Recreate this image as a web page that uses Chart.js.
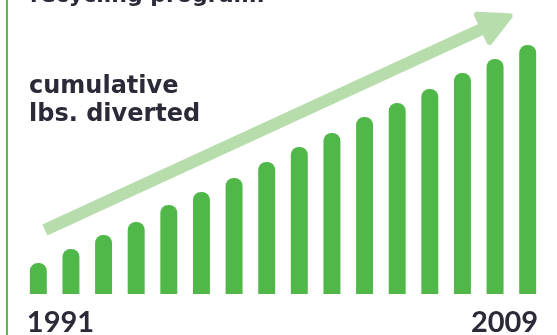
<!DOCTYPE html>
<html>
<head>
<meta charset="utf-8">
<script src="https://cdn.jsdelivr.net/npm/chart.js@4"></script>
<style>
  html, body { margin: 0; padding: 0; background: #ffffff; }
  #wrap { position: relative; width: 557px; height: 335px; overflow: hidden; }
  #rule { position: absolute; left: 6px; top: 0; width: 2px; height: 335px; background: #5cb951; }
  canvas { position: absolute; left: 0; top: 0; }
</style>
</head>
<body>
<div id="wrap">
  <div id="rule"></div>
  <canvas id="chart" width="557" height="335"></canvas>
</div>
<script>
// Cumulative pounds diverted by the recycling program, one bar per period
const categories = ['1991', '', '', '', '', '', '', '', '', '', '', '', '', '', '', '2009'];
const cumulativeDiverted = [31, 45, 59, 72, 89, 102, 116, 132, 147, 161, 177, 191, 205, 221, 235, 249];
// Trend arrow: category positions and values of its tail and tip
const trendPositions = [0.2, 14.53];
const trendValues = [64, 279];
const captionLines = ['cumulative', 'lbs. diverted'];
const headerText = 'recycling program.';

const BAR_GREEN = '#50b848';
const ARROW_GREEN = '#b7ddad';
const INK = '#2b2a38';
const TEXT_FONT = '"DejaVu Sans", sans-serif';
const YEAR_FONT = 'Lato, "Open Sans", sans-serif';

const decorations = {
  id: 'decorations',
  beforeDatasetsDraw(chart) {
    const { ctx, scales: { x, y } } = chart;
    const x0 = x.getPixelForValue(trendPositions[0]);
    const y0 = y.getPixelForValue(trendValues[0]);
    const x1 = x.getPixelForValue(trendPositions[1]);
    const y1 = y.getPixelForValue(trendValues[1]);
    const len = Math.hypot(x1 - x0, y1 - y0);
    const ux = (x1 - x0) / len, uy = (y1 - y0) / len;
    const px = -uy, py = ux;
    const headLen = 32, headHalf = 18;
    const bx = x1 - ux * headLen, by = y1 - uy * headLen;
    ctx.save();
    ctx.strokeStyle = ARROW_GREEN;
    ctx.fillStyle = ARROW_GREEN;
    ctx.lineWidth = 12;
    ctx.lineCap = 'butt';
    ctx.beginPath();
    ctx.moveTo(x0, y0);
    ctx.lineTo(bx + ux * 2, by + uy * 2);
    ctx.stroke();
    ctx.lineJoin = 'round';
    ctx.lineWidth = 6;
    ctx.beginPath();
    ctx.moveTo(x1 - ux * 3, y1 - uy * 3);
    ctx.lineTo(bx + px * (headHalf - 3), by + py * (headHalf - 3));
    ctx.lineTo(bx - px * (headHalf - 3), by - py * (headHalf - 3));
    ctx.closePath();
    ctx.fill();
    ctx.stroke();
    ctx.restore();
  },
  afterDraw(chart) {
    const { ctx } = chart;
    const bars = chart.getDatasetMeta(0).data;
    ctx.save();
    ctx.fillStyle = INK;
    ctx.textBaseline = 'alphabetic';
    ctx.textAlign = 'left';

    ctx.font = 'bold 22px ' + TEXT_FONT;
    ctx.fillText(headerText, 30, 2);

    ctx.font = 'bold 24px ' + TEXT_FONT;
    captionLines.forEach((line, i) => ctx.fillText(line, 29, 93 + i * 28));

    // End labels of the category axis, flush with the outer bars
    ctx.font = 'bold 29px ' + YEAR_FONT;
    const first = bars[0], last = bars[bars.length - 1];
    ctx.textAlign = 'left';
    ctx.fillText(categories[0], first.x - first.width / 2 - 3, 332);
    ctx.textAlign = 'right';
    ctx.fillText(categories[categories.length - 1], last.x + last.width / 2 + 2, 332);
    ctx.restore();
  }
};

new Chart(document.getElementById('chart'), {
  type: 'bar',
  data: {
    labels: categories,
    datasets: [{
      data: cumulativeDiverted,
      backgroundColor: BAR_GREEN,
      borderRadius: { topLeft: 8, topRight: 8, bottomLeft: 0, bottomRight: 0 },
      borderSkipped: false,
      barPercentage: 0.52,
      categoryPercentage: 1
    }]
  },
  options: {
    responsive: false,
    animation: false,
    layout: { padding: { left: 22, right: 13, top: 0, bottom: 41 } },
    plugins: { legend: { display: false }, tooltip: { enabled: false }, title: { display: false } },
    scales: {
      x: { display: false, offset: true },
      y: { display: false, min: 0, max: 294 }
    }
  },
  plugins: [decorations]
});
</script>
</body>
</html>
